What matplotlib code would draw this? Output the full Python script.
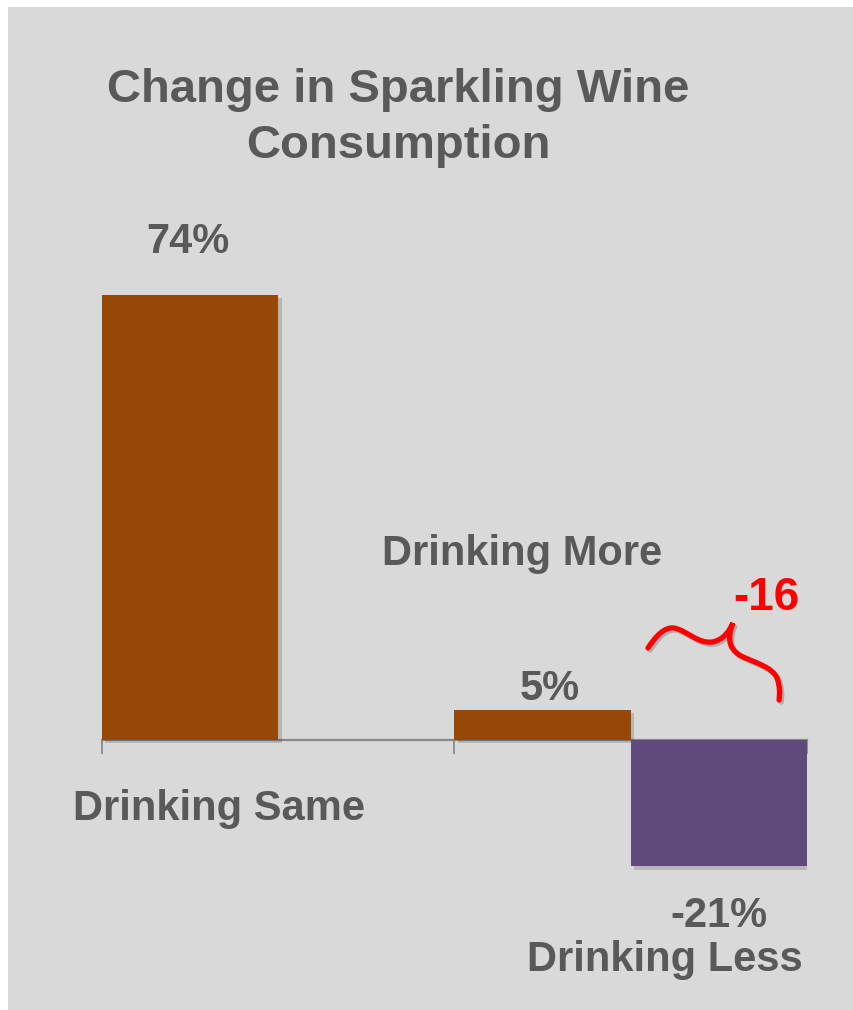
import matplotlib
matplotlib.use("Agg")
import matplotlib.pyplot as plt
import matplotlib.patheffects as pe
from matplotlib.patches import Rectangle, PathPatch
from matplotlib.path import Path
from matplotlib.transforms import Affine2D

plt.rcParams['font.family'] = ['Liberation Sans', 'DejaVu Sans']
plt.rcParams['font.weight'] = 'bold'

# data
categories = ['Drinking Same', 'Drinking More', 'Drinking Less']
values = [74, 5, -21]
value_labels = ['74%', '5%', '-21%']
bar_colors = ['#974706', '#974706', '#604a7b']
net_change = '-16'

W, H = 854, 1010
TEXT = '#595959'
AXIS = '#898989'

fig = plt.figure(figsize=(W / 100, H / 100), dpi=100)
fig.patch.set_facecolor('white')

# grey panel behind everything
fig.add_artist(Rectangle((8 / W, 0), 1 - 8 / W, 1 - 7 / H,
                         transform=fig.transFigure, facecolor='#d9d9d9',
                         edgecolor='none', zorder=-10))

# pixel coords (origin top-left) -> figure
px = Affine2D().scale(1 / W, -1 / H).translate(0, 1) + fig.transFigure

ax = fig.add_axes([102 / W, 1 - 920.4 / H, 705 / W, 661.5 / H])
ax.set_facecolor('none')

lefts = [0, 1, 1.5]
shadow = [pe.SimplePatchShadow(offset=(2.5, -2.5), shadow_rgbFace='black',
                               alpha=0.16),
          pe.Normal()]
bars = ax.bar(lefts, values, width=0.5, align='edge', color=bar_colors,
              zorder=3)
for b in bars:
    b.set_path_effects(shadow)

ax.set_xlim(0, 2)
ax.set_ylim(-30, 80)
for s in ['top', 'right', 'left']:
    ax.spines[s].set_visible(False)
ax.spines['bottom'].set_position(('data', 0))
ax.spines['bottom'].set_color(AXIS)
ax.spines['bottom'].set_linewidth(1.6)
ax.spines['bottom'].set_zorder(2)
ax.set_yticks([])
ax.set_xticks([0, 1, 2])
ax.set_xticklabels([])
ax.tick_params(axis='x', length=10, width=1.3, color=AXIS, direction='out')

# value labels
val_offsets = [(-2.5, 42), (7, 10), (0, -61)]
for b, lab, off in zip(bars, value_labels, val_offsets):
    xc = b.get_x() + b.get_width() / 2
    ax.annotate(lab, xy=(xc, b.get_height()), xytext=off,
                textcoords='offset pixels', ha='center', va='baseline',
                fontsize=30, color=TEXT, fontweight='bold')

# category labels
cat_offsets = [(29, -80), (-21, 175), (-54, -231)]
for b, cat, off in zip(bars, categories, cat_offsets):
    xc = b.get_x() + b.get_width() / 2
    ax.annotate(cat, xy=(xc, 0), xytext=off,
                textcoords='offset pixels', ha='center', va='baseline',
                fontsize=30, color=TEXT, fontweight='bold')

# title
fig.text(398.5, 102, 'Change in Sparkling Wine', transform=px,
         ha='center', va='baseline', fontsize=34, color=TEXT,
         fontweight='bold')
fig.text(398.5, 158, 'Consumption', transform=px,
         ha='center', va='baseline', fontsize=34, color=TEXT,
         fontweight='bold')

# hand-drawn red brace with the net change
verts = [(648, 648),
         (656, 636), (664, 627), (674, 628),
         (686, 630), (698, 644), (712, 642),
         (724, 640), (730, 630), (733, 623),
         (728, 636), (727, 648), (741, 656),
         (756, 663), (772, 667), (777, 678),
         (780, 686), (780, 694), (779, 700)]
codes = [Path.MOVETO] + [Path.CURVE4] * 18
brace = PathPatch(Path(verts, codes), transform=px, facecolor='none',
                  edgecolor='#ff0000', linewidth=3.8, capstyle='round',
                  path_effects=[pe.SimpleLineShadow(offset=(1.5, -1.5),
                                                    alpha=0.2), pe.Normal()])
fig.add_artist(brace)
fig.text(766, 610, net_change, transform=px, ha='center', va='baseline',
         fontsize=33, color='#ff0000', fontweight='bold')

fig.savefig('out.png', dpi=100)
